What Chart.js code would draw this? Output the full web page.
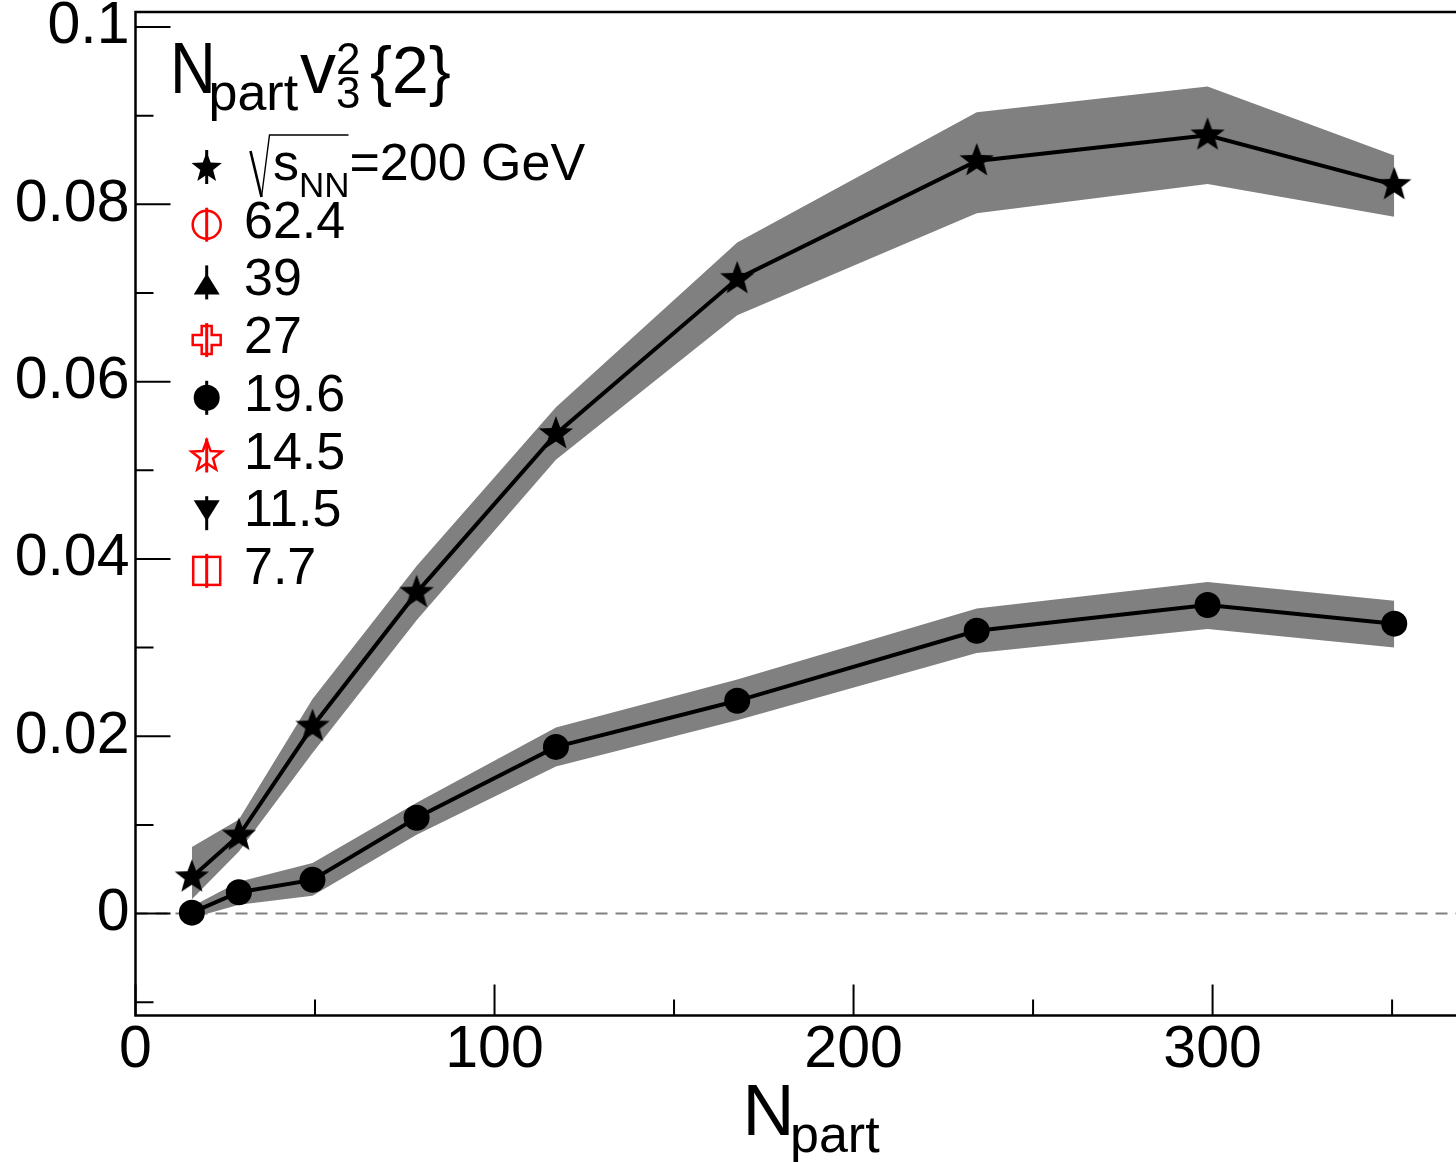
<!DOCTYPE html>
<html><head><meta charset="utf-8">
<script src="https://cdn.jsdelivr.net/npm/chart.js@4.4.0/dist/chart.umd.min.js"></script>
<style>html,body{margin:0;padding:0;background:#fff}#wrap{width:1456px;height:1162px;position:relative}canvas{display:block}</style>
</head><body><div id="wrap"><canvas id="c" width="1456" height="1162"></canvas></div>
<script>
// ---- data ----
const npart = [15.7, 28.8, 49.3, 78.3, 117.1, 167.6, 234.3, 298.6, 350.6];
const v200 = [0.0041, 0.0088, 0.0211, 0.0362, 0.0541, 0.0716, 0.0849, 0.0878, 0.0822];
const v200Hi = [0.0075, 0.0106, 0.0242, 0.0392, 0.0571, 0.0757, 0.0904, 0.0933, 0.0855];
const v200Lo = [0.0016, 0.0070, 0.0181, 0.0331, 0.0512, 0.0675, 0.0790, 0.0823, 0.0786];
const v196 = [0.0001, 0.0024, 0.0038, 0.0108, 0.0188, 0.0240, 0.0319, 0.0348, 0.0327];
const v196Hi = [0.0008, 0.0036, 0.0057, 0.0125, 0.0210, 0.0264, 0.0344, 0.0374, 0.0353];
const v196Lo = [-0.0005, 0.0010, 0.0020, 0.0089, 0.0166, 0.0218, 0.0294, 0.0321, 0.0300];
const xTickValues = [0, 100, 200, 300];
const xTickLabels = ['0', '100', '200', '300'];
const xMinorValues = [50, 150, 250, 350];
const yTickValues = [0, 0.02, 0.04, 0.06, 0.08, 0.1];
const yTickLabels = ['0', '0.02', '0.04', '0.06', '0.08', '0.1'];
const yMinorValues = [-0.01, 0.01, 0.03, 0.05, 0.07, 0.09];
const legendLabels = ['200 GeV', '62.4', '39', '27', '19.6', '14.5', '11.5', '7.7'];
const legendColors = ['#000', '#ff0000', '#000', '#ff0000', '#000', '#ff0000', '#000', '#ff0000'];
const legendShapes = ['star', 'circle', 'triangle', 'cross', 'circle', 'star', 'triangleDown', 'rect'];
const legendFilled = [true, false, true, false, true, false, true, false];

const FONT = '"Liberation Sans", Arial, Helvetica, sans-serif';

function starPath(g, cx, cy, R, ratio) {
  g.beginPath();
  for (let i = 0; i < 10; i++) {
    const a = -Math.PI / 2 + i * Math.PI / 5;
    const r = i % 2 ? R * ratio : R;
    const px = cx + r * Math.cos(a), py = cy + r * Math.sin(a);
    if (i === 0) g.moveTo(px, py); else g.lineTo(px, py);
  }
  g.closePath();
}
function makeStar(R, ratio, fill) {
  const c = document.createElement('canvas');
  const s = Math.ceil(2 * R + 4);
  c.width = s; c.height = s;
  const g = c.getContext('2d');
  starPath(g, s / 2, s / 2, R, ratio);
  g.fillStyle = fill; g.fill();
  return c;
}
const starImg = makeStar(18, 0.42, '#000');

function drawMarker(ctx, shape, x, y, color, filled) {
  ctx.save();
  ctx.strokeStyle = color; ctx.fillStyle = color;
  ctx.beginPath(); ctx.lineWidth = 3; ctx.moveTo(x, y - 17); ctx.lineTo(x, y + 17); ctx.stroke();
  ctx.lineWidth = 2.5;
  if (shape === 'star') {
    starPath(ctx, x, y + 1, 16, 0.42);
    if (filled) ctx.fill(); else ctx.stroke();
  } else if (shape === 'circle') {
    ctx.beginPath(); ctx.arc(x, y, filled ? 13 : 14, 0, Math.PI * 2);
    if (filled) ctx.fill(); else ctx.stroke();
  } else if (shape === 'triangle') {
    ctx.beginPath(); ctx.moveTo(x, y - 9); ctx.lineTo(x + 13, y + 12); ctx.lineTo(x - 13, y + 12); ctx.closePath();
    if (filled) ctx.fill(); else ctx.stroke();
  } else if (shape === 'triangleDown') {
    ctx.beginPath(); ctx.moveTo(x, y + 8); ctx.lineTo(x + 13, y - 13); ctx.lineTo(x - 13, y - 13); ctx.closePath();
    if (filled) ctx.fill(); else ctx.stroke();
  } else if (shape === 'cross') {
    const a = 14, t = 5;
    ctx.beginPath();
    ctx.moveTo(x - t, y - a); ctx.lineTo(x + t, y - a); ctx.lineTo(x + t, y - t); ctx.lineTo(x + a, y - t);
    ctx.lineTo(x + a, y + t); ctx.lineTo(x + t, y + t); ctx.lineTo(x + t, y + a); ctx.lineTo(x - t, y + a);
    ctx.lineTo(x - t, y + t); ctx.lineTo(x - a, y + t); ctx.lineTo(x - a, y - t); ctx.lineTo(x - t, y - t);
    ctx.closePath(); ctx.stroke();
  } else if (shape === 'rect') {
    ctx.strokeRect(x - 13.5, y - 14, 27, 28);
  }
  ctx.restore();
}

const decor = {
  id: 'decor',
  beforeDatasetsDraw(chart) {
    const { ctx, chartArea: ca, scales: { y } } = chart;
    const y0 = y.getPixelForValue(0);
    ctx.save();
    ctx.strokeStyle = '#808080'; ctx.lineWidth = 2; ctx.setLineDash([12, 8]);
    ctx.beginPath(); ctx.moveTo(ca.left, y0); ctx.lineTo(ca.right, y0); ctx.stroke();
    ctx.restore();
  },
  afterDraw(chart) {
    const { ctx, chartArea: ca, scales: { x, y } } = chart;
    ctx.save();
    ctx.strokeStyle = '#000'; ctx.lineWidth = 2;
    ctx.beginPath();
    xTickValues.forEach(v => { const p = x.getPixelForValue(v); ctx.moveTo(p, ca.bottom); ctx.lineTo(p, ca.bottom - 31); });
    xMinorValues.forEach(v => { const p = x.getPixelForValue(v); ctx.moveTo(p, ca.bottom); ctx.lineTo(p, ca.bottom - 16); });
    yTickValues.forEach(v => { const p = y.getPixelForValue(v); ctx.moveTo(ca.left, p); ctx.lineTo(ca.left + 35, p); });
    yMinorValues.forEach(v => { const p = y.getPixelForValue(v); ctx.moveTo(ca.left, p); ctx.lineTo(ca.left + 18, p); });
    ctx.stroke();
    ctx.lineWidth = 2.5;
    ctx.beginPath();
    ctx.moveTo(ca.right + 2, ca.top); ctx.lineTo(ca.left, ca.top); ctx.lineTo(ca.left, ca.bottom); ctx.lineTo(ca.right + 2, ca.bottom);
    ctx.stroke();

    ctx.fillStyle = '#000'; ctx.textBaseline = 'alphabetic'; ctx.textAlign = 'left';
    // x axis title N_part
    ctx.font = '72px ' + FONT; ctx.fillText('N', 742.5, 1135);
    ctx.font = '52px ' + FONT; ctx.fillText('part', 790, 1152);

    // plot title N_part v_3^2{2}
    ctx.save(); ctx.translate(170, 93); ctx.scale(0.88, 1);
    ctx.font = '72px ' + FONT; ctx.fillText('N', 0, 0);
    ctx.restore();
    ctx.font = '52px ' + FONT; ctx.fillText('part', 208.5, 110);
    ctx.font = '72px ' + FONT; ctx.fillText('v', 300, 93);
    ctx.font = '44px ' + FONT; ctx.fillText('2', 336, 74); ctx.fillText('3', 336, 108);
    ctx.font = '66px ' + FONT; ctx.fillText('{2}', 370, 93);

    // legend
    const mx = 206.7;
    for (let i = 0; i < legendLabels.length; i++) {
      const base = 180 + i * 57.7;
      drawMarker(ctx, legendShapes[i], mx, base - 13, legendColors[i], legendFilled[i]);
      ctx.fillStyle = '#000';
      if (i === 0) {
        ctx.strokeStyle = '#000';
        ctx.lineWidth = 2.6;
        ctx.beginPath(); ctx.moveTo(250.5, 151); ctx.lineTo(261.5, 197); ctx.stroke();
        ctx.lineWidth = 1.4;
        ctx.beginPath(); ctx.moveTo(261.5, 197); ctx.lineTo(269.5, 135); ctx.lineTo(348.5, 135); ctx.stroke();
        ctx.font = '52px ' + FONT; ctx.fillText('s', 273, base);
        ctx.font = '35px ' + FONT; ctx.fillText('NN', 299, 197);
        ctx.font = '52px ' + FONT; ctx.fillText('=' + legendLabels[0], 349.5, base);
      } else {
        ctx.font = '52px ' + FONT; ctx.fillText(legendLabels[i], 244, base);
      }
    }
    ctx.restore();
  }
};

const pts = (arr) => npart.map((v, i) => ({ x: v, y: arr[i] }));
const bandBase = { borderWidth: 0, pointRadius: 0, showLine: true, order: 10 };

new Chart(document.getElementById('c'), {
  type: 'line',
  data: {
    datasets: [
      Object.assign({ data: pts(v200Lo), fill: false }, bandBase),
      Object.assign({ data: pts(v200Hi), fill: '-1', backgroundColor: '#808080' }, bandBase),
      Object.assign({ data: pts(v196Lo), fill: false }, bandBase),
      Object.assign({ data: pts(v196Hi), fill: '-1', backgroundColor: '#808080' }, bandBase),
      { data: pts(v200), borderColor: '#000', borderWidth: 4, pointStyle: starImg, pointRadius: 18,
        pointBackgroundColor: '#000', fill: false, order: 0, tension: 0 },
      { data: pts(v196), borderColor: '#000', borderWidth: 4, pointStyle: 'circle', pointRadius: 13,
        pointBorderWidth: 0, pointBackgroundColor: '#000', fill: false, order: 0, tension: 0 }
    ]
  },
  options: {
    responsive: false, animation: false, devicePixelRatio: 1,
    layout: { autoPadding: false, padding: { top: 12, right: 0, left: 0, bottom: 0 } },
    plugins: { legend: { display: false }, tooltip: { enabled: false }, title: { display: false } },
    elements: { line: { borderJoinStyle: 'miter' } },
    scales: {
      x: {
        type: 'linear', min: 0, max: 367.8,
        grid: { display: false, drawTicks: false }, border: { display: false },
        afterBuildTicks: (s) => { s.ticks = xTickValues.map(v => ({ value: v })); },
        afterFit: (s) => { s.height = 146.5; s.paddingLeft = 0; s.paddingRight = 0; },
        ticks: { padding: 0, color: '#000', maxRotation: 0, autoSkip: false,
          font: { family: FONT, size: 59 },
          callback: (v) => { const i = xTickValues.indexOf(v); return i >= 0 ? xTickLabels[i] : ''; } }
      },
      y: {
        type: 'linear', min: -0.0115, max: 0.1017,
        grid: { display: false, drawTicks: false }, border: { display: false },
        afterBuildTicks: (s) => { s.ticks = yTickValues.map(v => ({ value: v })); },
        afterFit: (s) => { s.width = 135.5; s.paddingTop = 0; s.paddingBottom = 0; },
        ticks: { padding: 6, color: '#000', autoSkip: false,
          font: { family: FONT, size: 59 },
          callback: (v) => { const i = yTickValues.findIndex(t => Math.abs(t - v) < 1e-9); return i >= 0 ? yTickLabels[i] : ''; } }
      }
    }
  },
  plugins: [decor]
});
</script>
</body></html>
